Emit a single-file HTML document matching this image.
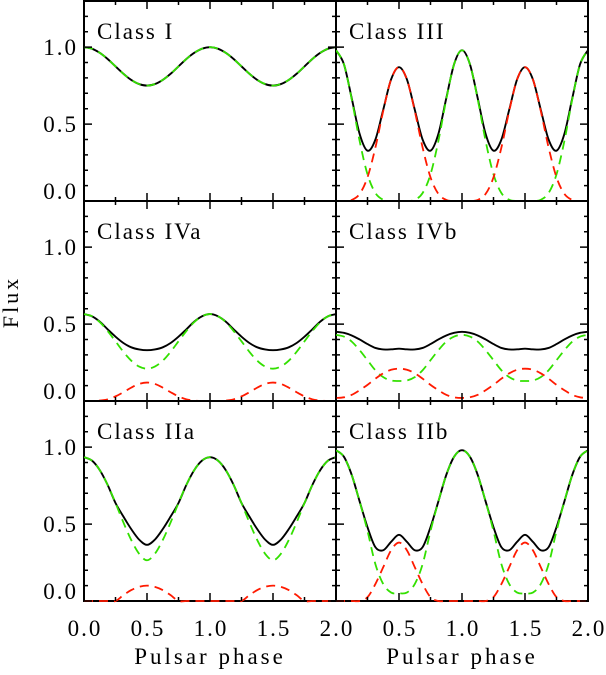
<!DOCTYPE html>
<html><head><meta charset="utf-8"><style>
html,body{margin:0;padding:0;background:#fff;}
svg text{font-family:"Liberation Serif","DejaVu Serif",serif;fill:#000;}
</style></head><body>
<svg id="chart" width="606" height="670" xmlns="http://www.w3.org/2000/svg">
<text x="18" y="302" font-size="22" text-anchor="middle" transform="rotate(-90 18 302)" letter-spacing="3">Flux</text>
</svg>
<script>
const phases = [0,0.0625,0.125,0.1875,0.25,0.3125,0.375,0.4375,0.5,0.5625,0.625,0.6875,0.75,0.8125,0.875,0.9375,1,1.0625,1.125,1.1875,1.25,1.3125,1.375,1.4375,1.5,1.5625,1.625,1.6875,1.75,1.8125,1.875,1.9375,2];
const panelNames = ["Class I","Class III","Class IVa","Class IVb","Class IIa","Class IIb"];
const greenI = [1,.99,.963,.923,.875,.827,.787,.76,.75,.76,.787,.827,.875,.923,.963,.99,1,.99,.963,.923,.875,.827,.787,.76,.75,.76,.787,.827,.875,.923,.963,.99,1];
const redI = [0,0,0,0,0,0,0,0,0,0,0,0,0,0,0,0,0,0,0,0,0,0,0,0,0,0,0,0,0,0,0,0,0];
const greenIII = [.98,.89,.66,.39,.173,.052,.008,0,0,0,.008,.052,.173,.39,.66,.89,.98,.89,.66,.39,.173,.052,.008,0,0,0,.008,.052,.173,.39,.66,.89,.98];
const redIII = [0,0,.007,.046,.154,.347,.586,.791,.87,.791,.586,.347,.154,.046,.007,0,0,0,.007,.046,.154,.347,.586,.791,.87,.791,.586,.347,.154,.046,.007,0,0];
const greenIVa = [.565,.551,.513,.455,.388,.32,.262,.224,.21,.224,.262,.32,.388,.455,.513,.551,.565,.551,.513,.455,.388,.32,.262,.224,.21,.224,.262,.32,.388,.455,.513,.551,.565];
const redIVa = [0,0,.003,.011,.03,.057,.087,.111,.12,.111,.087,.057,.03,.011,.003,0,0,0,.003,.011,.03,.057,.087,.111,.12,.111,.087,.057,.03,.011,.003,0,0];
const greenIVb = [.43,.419,.386,.33,.265,.2,.155,.133,.13,.133,.155,.2,.265,.33,.386,.419,.43,.419,.386,.33,.265,.2,.155,.133,.13,.133,.155,.2,.265,.33,.386,.419,.43];
const redIVb = [.02,.024,.04,.07,.105,.145,.18,.203,.21,.203,.18,.145,.105,.07,.04,.024,.02,.024,.04,.07,.105,.145,.18,.203,.21,.203,.18,.145,.105,.07,.04,.024,.02];
const greenIIa = [.935,.913,.851,.755,.637,.511,.396,.307,.265,.307,.396,.511,.637,.755,.851,.913,.935,.913,.851,.755,.637,.511,.396,.307,.265,.307,.396,.511,.637,.755,.851,.913,.935];
const redIIa = [0,0,0,0,0,.038,.071,.092,.1,.092,.071,.038,0,0,0,0,0,0,0,0,0,.038,.071,.092,.1,.092,.071,.038,0,0,0,0,0];
const greenIIb = [.98,.938,.819,.647,.455,.24,.11,.055,.05,.055,.11,.24,.455,.647,.819,.938,.98,.938,.819,.647,.455,.24,.11,.055,.05,.055,.11,.24,.455,.647,.819,.938,.98];
const redIIb = [0,0,0,0,.025,.11,.22,.33,.38,.33,.22,.11,.025,0,0,0,0,0,0,0,.025,.11,.22,.33,.38,.33,.22,.11,.025,0,0,0,0];
const yTickLabels = ["1.0","0.5","0.0"];
const yTickValues = [1.0,0.5,0.0];
const xTickLabels = ["0.0","0.5","1.0","1.5","2.0"];
const xTickValues = [0,0.5,1,1.5,2];

const greens = [greenI,greenIII,greenIVa,greenIVb,greenIIa,greenIIb];
const reds = [redI,redIII,redIVa,redIVb,redIIa,redIIb];
const NS = "http://www.w3.org/2000/svg";
const svg = document.getElementById('chart');
const colX = [84,336], rowY = [1,201,401], PW = 252, PH = 200;
const YMAX = 1.3;
function mk(tag, attrs, parent){const e=document.createElementNS(NS,tag);for(const k in attrs)e.setAttribute(k,attrs[k]);(parent||svg).appendChild(e);return e;}
function smooth(pts){
  let d="M"+pts[0][0].toFixed(2)+","+pts[0][1].toFixed(2);
  for(let i=0;i<pts.length-1;i++){
    const p0=pts[Math.max(0,i-1)],p1=pts[i],p2=pts[i+1],p3=pts[Math.min(pts.length-1,i+2)];
    const c1x=p1[0]+(p2[0]-p0[0])/6,c1y=p1[1]+(p2[1]-p0[1])/6;
    const c2x=p2[0]-(p3[0]-p1[0])/6,c2y=p2[1]-(p3[1]-p1[1])/6;
    d+="C"+c1x.toFixed(2)+","+c1y.toFixed(2)+" "+c2x.toFixed(2)+","+c2y.toFixed(2)+" "+p2[0].toFixed(2)+","+p2[1].toFixed(2);
  }
  return d;
}
for(let p=0;p<6;p++){
  const col=p%2,row=Math.floor(p/2);
  const x0=colX[col],y0=rowY[row];
  const xs=v=>x0+v/2*PW;
  const ys=v=>y0+PH-v/YMAX*PH;
  const g=mk('g',{});
  
  
  const clipId='clip'+p;
  const cp=mk('clipPath',{id:clipId},g);
  mk('rect',{x:x0,y:y0,width:PW,height:PH+2},cp);
  const green=greens[p],red=reds[p];
  const total=green.map((v,i)=>v+red[i]);
  const pts=a=>a.map((v,i)=>[xs(phases[i]),ys(v)]);
  const tl=mk('path',{d:smooth(pts(total)),fill:'none',stroke:'#000','stroke-width':1.9,'clip-path':`url(#${clipId})`},g);
  
  
  const fr=mk('rect',{x:x0,y:y0,width:PW,height:PH,fill:'none',stroke:'#000','stroke-width':2},g);
  
  
  const gl=mk('path',{d:smooth(pts(green)),fill:'none',stroke:'#33e000','stroke-width':1.8,'stroke-dasharray':'9,6','clip-path':`url(#${clipId})`},g);
  
  
  const rl=mk('path',{d:smooth(pts(red)),fill:'none',stroke:'#ff1a00','stroke-width':1.8,'stroke-dasharray':'9,6','clip-path':`url(#${clipId})`},g);
  
  
  let td="";
  for(let v=0;v<=YMAX+1e-6;v+=0.1){const y=ys(v);const L=(Math.round(v*10)%5===0)?8:4;td+=`M${x0},${y}h${L}M${x0+PW},${y}h${-L}`;}
  for(let v=0;v<=2+1e-6;v+=0.25){const x=xs(v);const L=(Math.round(v*4)%2===0)?8:4;td+=`M${x},${y0+PH}v${-L}M${x},${y0}v${L}`;}
  mk('path',{d:td,stroke:'#000','stroke-width':1.5,fill:'none'},g);
  const lab=mk('text',{x:x0+13,y:y0+38,'font-size':23,'letter-spacing':2},g);
  lab.textContent=panelNames[p];
  
  
  if(col===0){
    yTickLabels.forEach((t,i)=>{
      const yv=ys(yTickValues[i]);
      const ty=yTickValues[i]===0?yv-2:yv+8;
      const e=mk('text',{x:78,y:ty,'font-size':23,'text-anchor':'end','letter-spacing':2});
      e.textContent=t;
      
      
    });
  }
  if(row===2){
    xTickLabels.forEach((t,i)=>{
      if(col===1&&i===0)return;
      const e=mk('text',{x:xs(xTickValues[i])+1,y:636,'font-size':23,'text-anchor':'middle','letter-spacing':2});
      e.textContent=t;
      
      
    });
    const xt=mk('text',{x:x0+PW/2,y:664,'font-size':23,'text-anchor':'middle','letter-spacing':3});
    xt.textContent="Pulsar phase";
    
    
  }
}
</script>
</body></html>
